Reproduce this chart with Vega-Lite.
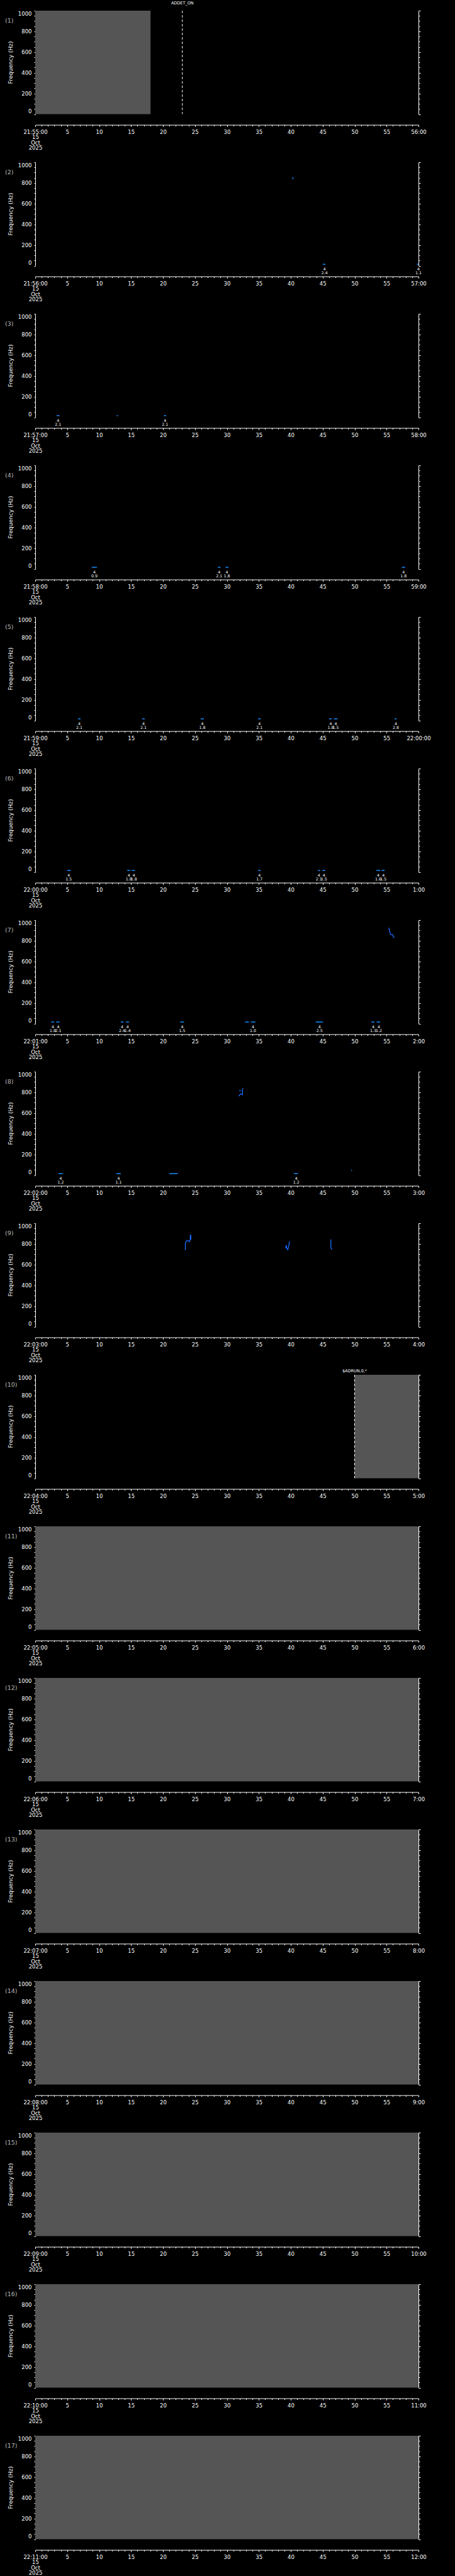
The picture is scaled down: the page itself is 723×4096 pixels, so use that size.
{
"$schema":"https://vega.github.io/schema/vega-lite/v6.json",
"background":"black",
"padding":{"left":8,"top":1,"right":46,"bottom":4},
"spacing":76,
"bounds":"flush",
"config":{"view":{"stroke":null},"font":"DejaVu Sans","axis":{"domainColor":"white","tickColor":"white","labelColor":"white","titleColor":"white","grid":false,"zindex":1,"labelFont":"DejaVu Sans","titleFont":"DejaVu Sans","labelFontSize":8.5,"titleFontWeight":"normal","domainWidth":1,"tickWidth":1}},
"datasets":{
"panels":[{"panel":1,"name":"(1)","t0":0,"t1":60,"f0":0,"f1":1000},{"panel":2,"name":"(2)","t0":0,"t1":60,"f0":0,"f1":1000},{"panel":3,"name":"(3)","t0":0,"t1":60,"f0":0,"f1":1000},{"panel":4,"name":"(4)","t0":0,"t1":60,"f0":0,"f1":1000},{"panel":5,"name":"(5)","t0":0,"t1":60,"f0":0,"f1":1000},{"panel":6,"name":"(6)","t0":0,"t1":60,"f0":0,"f1":1000},{"panel":7,"name":"(7)","t0":0,"t1":60,"f0":0,"f1":1000},{"panel":8,"name":"(8)","t0":0,"t1":60,"f0":0,"f1":1000},{"panel":9,"name":"(9)","t0":0,"t1":60,"f0":0,"f1":1000},{"panel":10,"name":"(10)","t0":0,"t1":60,"f0":0,"f1":1000},{"panel":11,"name":"(11)","t0":0,"t1":60,"f0":0,"f1":1000},{"panel":12,"name":"(12)","t0":0,"t1":60,"f0":0,"f1":1000},{"panel":13,"name":"(13)","t0":0,"t1":60,"f0":0,"f1":1000},{"panel":14,"name":"(14)","t0":0,"t1":60,"f0":0,"f1":1000},{"panel":15,"name":"(15)","t0":0,"t1":60,"f0":0,"f1":1000},{"panel":16,"name":"(16)","t0":0,"t1":60,"f0":0,"f1":1000},{"panel":17,"name":"(17)","t0":0,"t1":60,"f0":0,"f1":1000}],
"grays":[{"panel":1,"t0":0,"t1":18.05},{"panel":10,"t0":50,"t1":60},{"panel":11,"t0":0,"t1":60},{"panel":12,"t0":0,"t1":60},{"panel":13,"t0":0,"t1":60},{"panel":14,"t0":0,"t1":60},{"panel":15,"t0":0,"t1":60},{"panel":16,"t0":0,"t1":60},{"panel":17,"t0":0,"t1":60}],
"events":[{"panel":1,"t":23.03,"label":"ADDET_ON"},{"panel":10,"t":50,"label":"$ADRUN,0,*"}],
"dets":[
{"panel":2,"t0":45.05,"t1":45.45,"f":14,"n":"4","v":"2.4","tc":45.3},{"panel":2,"t0":59.75,"t1":60,"f":14,"n":"4","v":"1.1","tc":60},
{"panel":3,"t0":3.35,"t1":3.8,"f":16,"n":"4","v":"2.1","tc":3.57},{"panel":3,"t0":12.75,"t1":12.95,"f":16,"n":"","v":"","tc":12.85},{"panel":3,"t0":20.15,"t1":20.5,"f":16,"n":"4","v":"2.1","tc":20.32},
{"panel":4,"t0":8.85,"t1":9.65,"f":15,"n":"4","v":"0.9","tc":9.25},{"panel":4,"t0":28.6,"t1":29.0,"f":15,"n":"4","v":"2.1","tc":28.8},{"panel":4,"t0":29.8,"t1":30.25,"f":15,"n":"4","v":"1.8","tc":30.0},{"panel":4,"t0":57.4,"t1":57.9,"f":15,"n":"4","v":"1.8","tc":57.65},
{"panel":5,"t0":6.7,"t1":7.1,"f":15,"n":"4","v":"2.1","tc":6.9},{"panel":5,"t0":16.75,"t1":17.15,"f":15,"n":"4","v":"2.1","tc":16.95},{"panel":5,"t0":25.9,"t1":26.4,"f":15,"n":"4","v":"1.8","tc":26.15},{"panel":5,"t0":34.9,"t1":35.3,"f":15,"n":"4","v":"2.1","tc":35.1},{"panel":5,"t0":46.0,"t1":46.4,"f":15,"n":"4","v":"1.8","tc":46.25},{"panel":5,"t0":46.75,"t1":47.3,"f":15,"n":"4","v":"1.5","tc":47.05},{"panel":5,"t0":56.25,"t1":56.55,"f":15,"n":"4","v":"2.8","tc":56.45},
{"panel":6,"t0":5.0,"t1":5.55,"f":15,"n":"4","v":"1.5","tc":5.25},{"panel":6,"t0":14.4,"t1":14.9,"f":15,"n":"4","v":"1.8","tc":14.65},{"panel":6,"t0":15.1,"t1":15.6,"f":15,"n":"4","v":"1.8","tc":15.45},{"panel":6,"t0":34.9,"t1":35.3,"f":15,"n":"4","v":"1.7","tc":35.1},{"panel":6,"t0":44.25,"t1":44.6,"f":15,"n":"4","v":"2.1","tc":44.4},{"panel":6,"t0":44.95,"t1":45.4,"f":15,"n":"4","v":"1.5","tc":45.2},{"panel":6,"t0":53.4,"t1":54.0,"f":15,"n":"4","v":"1.6","tc":53.7},{"panel":6,"t0":54.2,"t1":54.7,"f":15,"n":"4","v":"1.5","tc":54.5},
{"panel":7,"t0":2.5,"t1":2.95,"f":15,"n":"4","v":"1.8","tc":2.75},{"panel":7,"t0":3.3,"t1":3.8,"f":15,"n":"4","v":"2.1","tc":3.6},{"panel":7,"t0":13.4,"t1":13.8,"f":15,"n":"4","v":"2.4","tc":13.6},{"panel":7,"t0":14.2,"t1":14.7,"f":15,"n":"4","v":"1.4","tc":14.45},{"panel":7,"t0":22.7,"t1":23.3,"f":15,"n":"4","v":"1.5","tc":23.0},{"panel":7,"t0":32.85,"t1":33.45,"f":15,"n":"","v":"","tc":33.1},{"panel":7,"t0":33.75,"t1":34.45,"f":15,"n":"4","v":"1.0","tc":34.1},{"panel":7,"t0":43.9,"t1":45.05,"f":15,"n":"4","v":"2.5","tc":44.5},{"panel":7,"t0":52.6,"t1":53.1,"f":15,"n":"4","v":"1.3","tc":52.9},{"panel":7,"t0":53.45,"t1":54.0,"f":15,"n":"4","v":"1.2","tc":53.8},
{"panel":8,"t0":3.65,"t1":4.35,"f":14,"n":"4","v":"1.2","tc":4.0},{"panel":8,"t0":12.7,"t1":13.4,"f":14,"n":"4","v":"1.1","tc":13.05},{"panel":8,"t0":21.0,"t1":22.3,"f":14,"n":"","v":"","tc":21.6},{"panel":8,"t0":40.5,"t1":41.1,"f":14,"n":"4","v":"1.2","tc":40.85},{"panel":8,"t0":49.45,"t1":49.6,"f":44,"n":"","v":"","tc":49.5}
],
"traces":[
{"panel":2,"id":"2a","o":1,"t":40.3,"f":856},{"panel":2,"id":"2a","o":2,"t":40.33,"f":846},{"panel":2,"id":"2a","o":3,"t":40.38,"f":836},
{"panel":7,"id":"7a","o":1,"t":55.37,"f":926},{"panel":7,"id":"7a","o":2,"t":55.45,"f":893},{"panel":7,"id":"7a","o":3,"t":55.65,"f":860},{"panel":7,"id":"7a","o":4,"t":55.97,"f":860},{"panel":7,"id":"7a","o":5,"t":56.05,"f":838},{"panel":7,"id":"7a","o":6,"t":56.25,"f":828},
{"panel":8,"id":"8a","o":1,"t":31.89,"f":762},{"panel":8,"id":"8a","o":2,"t":32.0,"f":776},{"panel":8,"id":"8a","o":3,"t":32.17,"f":785},{"panel":8,"id":"8a","o":4,"t":32.3,"f":780},{"panel":8,"id":"8a","o":5,"t":32.45,"f":777},{"panel":8,"id":"8a","o":6,"t":32.45,"f":834},{"panel":8,"id":"8a","o":7,"t":32.57,"f":836},
{"panel":8,"id":"8b","o":1,"t":31.93,"f":817},{"panel":8,"id":"8b","o":2,"t":32.2,"f":817},
{"panel":9,"id":"9a","o":1,"t":23.5,"f":739},{"panel":9,"id":"9a","o":2,"t":23.5,"f":807},{"panel":9,"id":"9a","o":3,"t":23.68,"f":829},{"panel":9,"id":"9a","o":4,"t":23.9,"f":833},{"panel":9,"id":"9a","o":5,"t":24.14,"f":821},{"panel":9,"id":"9a","o":6,"t":24.27,"f":843},{"panel":9,"id":"9a","o":7,"t":24.27,"f":883},{"panel":9,"id":"9a","o":8,"t":24.36,"f":883},{"panel":9,"id":"9a","o":9,"t":24.36,"f":840},
{"panel":9,"id":"9b","o":1,"t":39.17,"f":757},{"panel":9,"id":"9b","o":2,"t":39.3,"f":786},{"panel":9,"id":"9b","o":3,"t":39.4,"f":760},{"panel":9,"id":"9b","o":4,"t":39.53,"f":743},{"panel":9,"id":"9b","o":5,"t":39.67,"f":771},{"panel":9,"id":"9b","o":6,"t":39.8,"f":826},
{"panel":9,"id":"9c","o":1,"t":46.28,"f":843},{"panel":9,"id":"9c","o":2,"t":46.28,"f":764},{"panel":9,"id":"9c","o":3,"t":46.46,"f":745}
]},
"vconcat":[
{"width":609,"height":164.5,"resolve":{"axis":{"x":"independent","y":"independent"}},"layer":[
{"data":{"name":"grays"},"transform":[{"filter":"datum.panel == 1"}],"mark":{"type":"rect","color":"#555555"},"encoding":{"x":{"field":"t0","type":"quantitative","axis":null},"x2":{"field":"t1"}}},
{"data":{"name":"events"},"transform":[{"filter":"datum.panel == 1"}],"mark":{"type":"rule","color":"white","strokeDash":[4,3],"strokeWidth":1},"encoding":{"x":{"field":"t","type":"quantitative","axis":null}}},
{"data":{"name":"events"},"transform":[{"filter":"datum.panel == 1"}],"mark":{"type":"text","color":"white","fontSize":6.5,"baseline":"middle","dy":-12.5},"encoding":{"x":{"field":"t","type":"quantitative","axis":null},"y":{"datum":1000,"axis":null},"text":{"field":"label"}}},
{"data":{"name":"panels"},"transform":[{"filter":"datum.panel == 1"}],"mark":{"type":"text","align":"left","baseline":"middle","dx":-48,"dy":16,"color":"#b8b8b8","fontSize":9.5},"encoding":{"x":{"field":"t0","type":"quantitative","scale":{"domain":[0,60],"nice":false,"zero":false},"axis":{"orient":"bottom","offset":17,"values":[0,1,2,3,4,5,6,7,8,9,10,11,12,13,14,15,16,17,18,19,20,21,22,23,24,25,26,27,28,29,30,31,32,33,34,35,36,37,38,39,40,41,42,43,44,45,46,47,48,49,50,51,52,53,54,55,56,57,58,59,60],"labelExpr":"datum.value == 0 ? ['21:55:00','15','Oct','2025'] : datum.value == 60 ? '56:00' : datum.value % 5 == 0 ? '' + datum.value : ''","tickSize":{"condition":{"test":"datum.value % 5 == 0","value":2.8},"value":2},"labelPadding":4,"labelFlush":false,"labelOverlap":false,"labelBound":false,"labelLineHeight":8.5,"title":null}},"y":{"field":"f1","type":"quantitative","scale":{"domain":[0,1000],"nice":false},"axis":{"orient":"left","values":[0,50,100,150,200,250,300,350,400,450,500,550,600,650,700,750,800,850,900,950,1000],"labelExpr":"datum.value % 200 == 0 ? '' + datum.value : ''","tickSize":2,"labelPadding":4,"labelFlush":true,"labelOverlap":false,"title":"Frequency (Hz)","titleX":-40,"titleY":82,"titleAngle":270,"titleBaseline":"middle","titleAlign":"center","titleFontSize":9}},"text":{"field":"name"}}},
{"data":{"name":"panels"},"transform":[{"filter":"datum.panel == 1"}],"mark":{"type":"rect","opacity":0},"encoding":{"y":{"field":"f0","type":"quantitative","axis":{"orient":"right","values":[0,50,100,150,200,250,300,350,400,450,500,550,600,650,700,750,800,850,900,950,1000],"labels":false,"title":null,"tickSize":{"condition":{"test":"datum.value % 200 == 0","value":3},"value":2}}},"y2":{"field":"f1"}}}
]},
{"width":609,"height":164.5,"resolve":{"axis":{"x":"independent","y":"independent"}},"layer":[
{"data":{"name":"traces"},"transform":[{"filter":"datum.panel == 2"}],"mark":{"type":"line","color":"#1a8cff","strokeWidth":1.3},"encoding":{"x":{"field":"t","type":"quantitative","axis":null},"y":{"field":"f","type":"quantitative","axis":null},"detail":{"field":"id"},"order":{"field":"o"}}},
{"data":{"name":"dets"},"transform":[{"filter":"datum.panel == 2"}],"mark":{"type":"rule","color":"#1a8cff","strokeWidth":1.5},"encoding":{"x":{"field":"t0","type":"quantitative","axis":null},"x2":{"field":"t1"},"y":{"field":"f","type":"quantitative","axis":null}}},
{"data":{"name":"dets"},"transform":[{"filter":"datum.panel == 2"}],"mark":{"type":"text","color":"white","fontSize":6.3,"baseline":"middle","dy":5},"encoding":{"x":{"field":"tc","type":"quantitative","axis":null},"y":{"datum":0,"axis":null},"text":{"field":"n"}}},
{"data":{"name":"dets"},"transform":[{"filter":"datum.panel == 2"}],"mark":{"type":"text","color":"white","fontSize":6.3,"baseline":"middle","dy":11.3},"encoding":{"x":{"field":"tc","type":"quantitative","axis":null},"y":{"datum":0,"axis":null},"text":{"field":"v"}}},
{"data":{"name":"panels"},"transform":[{"filter":"datum.panel == 2"}],"mark":{"type":"text","align":"left","baseline":"middle","dx":-48,"dy":16,"color":"#b8b8b8","fontSize":9.5},"encoding":{"x":{"field":"t0","type":"quantitative","scale":{"domain":[0,60],"nice":false,"zero":false},"axis":{"orient":"bottom","offset":17,"values":[0,1,2,3,4,5,6,7,8,9,10,11,12,13,14,15,16,17,18,19,20,21,22,23,24,25,26,27,28,29,30,31,32,33,34,35,36,37,38,39,40,41,42,43,44,45,46,47,48,49,50,51,52,53,54,55,56,57,58,59,60],"labelExpr":"datum.value == 0 ? ['21:56:00','15','Oct','2025'] : datum.value == 60 ? '57:00' : datum.value % 5 == 0 ? '' + datum.value : ''","tickSize":{"condition":{"test":"datum.value % 5 == 0","value":2.8},"value":2},"labelPadding":4,"labelFlush":false,"labelOverlap":false,"labelBound":false,"labelLineHeight":8.5,"title":null}},"y":{"field":"f1","type":"quantitative","scale":{"domain":[0,1000],"nice":false},"axis":{"orient":"left","values":[0,50,100,150,200,250,300,350,400,450,500,550,600,650,700,750,800,850,900,950,1000],"labelExpr":"datum.value % 200 == 0 ? '' + datum.value : ''","tickSize":2,"labelPadding":4,"labelFlush":true,"labelOverlap":false,"title":"Frequency (Hz)","titleX":-40,"titleY":82,"titleAngle":270,"titleBaseline":"middle","titleAlign":"center","titleFontSize":9}},"text":{"field":"name"}}},
{"data":{"name":"panels"},"transform":[{"filter":"datum.panel == 2"}],"mark":{"type":"rect","opacity":0},"encoding":{"y":{"field":"f0","type":"quantitative","axis":{"orient":"right","values":[0,50,100,150,200,250,300,350,400,450,500,550,600,650,700,750,800,850,900,950,1000],"labels":false,"title":null,"tickSize":{"condition":{"test":"datum.value % 200 == 0","value":3},"value":2}}},"y2":{"field":"f1"}}}
]},
{"width":609,"height":164.5,"resolve":{"axis":{"x":"independent","y":"independent"}},"layer":[
{"data":{"name":"dets"},"transform":[{"filter":"datum.panel == 3"}],"mark":{"type":"rule","color":"#1a8cff","strokeWidth":1.5},"encoding":{"x":{"field":"t0","type":"quantitative","axis":null},"x2":{"field":"t1"},"y":{"field":"f","type":"quantitative","axis":null}}},
{"data":{"name":"dets"},"transform":[{"filter":"datum.panel == 3"}],"mark":{"type":"text","color":"white","fontSize":6.3,"baseline":"middle","dy":5},"encoding":{"x":{"field":"tc","type":"quantitative","axis":null},"y":{"datum":0,"axis":null},"text":{"field":"n"}}},
{"data":{"name":"dets"},"transform":[{"filter":"datum.panel == 3"}],"mark":{"type":"text","color":"white","fontSize":6.3,"baseline":"middle","dy":11.3},"encoding":{"x":{"field":"tc","type":"quantitative","axis":null},"y":{"datum":0,"axis":null},"text":{"field":"v"}}},
{"data":{"name":"panels"},"transform":[{"filter":"datum.panel == 3"}],"mark":{"type":"text","align":"left","baseline":"middle","dx":-48,"dy":16,"color":"#b8b8b8","fontSize":9.5},"encoding":{"x":{"field":"t0","type":"quantitative","scale":{"domain":[0,60],"nice":false,"zero":false},"axis":{"orient":"bottom","offset":17,"values":[0,1,2,3,4,5,6,7,8,9,10,11,12,13,14,15,16,17,18,19,20,21,22,23,24,25,26,27,28,29,30,31,32,33,34,35,36,37,38,39,40,41,42,43,44,45,46,47,48,49,50,51,52,53,54,55,56,57,58,59,60],"labelExpr":"datum.value == 0 ? ['21:57:00','15','Oct','2025'] : datum.value == 60 ? '58:00' : datum.value % 5 == 0 ? '' + datum.value : ''","tickSize":{"condition":{"test":"datum.value % 5 == 0","value":2.8},"value":2},"labelPadding":4,"labelFlush":false,"labelOverlap":false,"labelBound":false,"labelLineHeight":8.5,"title":null}},"y":{"field":"f1","type":"quantitative","scale":{"domain":[0,1000],"nice":false},"axis":{"orient":"left","values":[0,50,100,150,200,250,300,350,400,450,500,550,600,650,700,750,800,850,900,950,1000],"labelExpr":"datum.value % 200 == 0 ? '' + datum.value : ''","tickSize":2,"labelPadding":4,"labelFlush":true,"labelOverlap":false,"title":"Frequency (Hz)","titleX":-40,"titleY":82,"titleAngle":270,"titleBaseline":"middle","titleAlign":"center","titleFontSize":9}},"text":{"field":"name"}}},
{"data":{"name":"panels"},"transform":[{"filter":"datum.panel == 3"}],"mark":{"type":"rect","opacity":0},"encoding":{"y":{"field":"f0","type":"quantitative","axis":{"orient":"right","values":[0,50,100,150,200,250,300,350,400,450,500,550,600,650,700,750,800,850,900,950,1000],"labels":false,"title":null,"tickSize":{"condition":{"test":"datum.value % 200 == 0","value":3},"value":2}}},"y2":{"field":"f1"}}}
]},
{"width":609,"height":164.5,"resolve":{"axis":{"x":"independent","y":"independent"}},"layer":[
{"data":{"name":"dets"},"transform":[{"filter":"datum.panel == 4"}],"mark":{"type":"rule","color":"#1a8cff","strokeWidth":1.5},"encoding":{"x":{"field":"t0","type":"quantitative","axis":null},"x2":{"field":"t1"},"y":{"field":"f","type":"quantitative","axis":null}}},
{"data":{"name":"dets"},"transform":[{"filter":"datum.panel == 4"}],"mark":{"type":"text","color":"white","fontSize":6.3,"baseline":"middle","dy":5},"encoding":{"x":{"field":"tc","type":"quantitative","axis":null},"y":{"datum":0,"axis":null},"text":{"field":"n"}}},
{"data":{"name":"dets"},"transform":[{"filter":"datum.panel == 4"}],"mark":{"type":"text","color":"white","fontSize":6.3,"baseline":"middle","dy":11.3},"encoding":{"x":{"field":"tc","type":"quantitative","axis":null},"y":{"datum":0,"axis":null},"text":{"field":"v"}}},
{"data":{"name":"panels"},"transform":[{"filter":"datum.panel == 4"}],"mark":{"type":"text","align":"left","baseline":"middle","dx":-48,"dy":16,"color":"#b8b8b8","fontSize":9.5},"encoding":{"x":{"field":"t0","type":"quantitative","scale":{"domain":[0,60],"nice":false,"zero":false},"axis":{"orient":"bottom","offset":17,"values":[0,1,2,3,4,5,6,7,8,9,10,11,12,13,14,15,16,17,18,19,20,21,22,23,24,25,26,27,28,29,30,31,32,33,34,35,36,37,38,39,40,41,42,43,44,45,46,47,48,49,50,51,52,53,54,55,56,57,58,59,60],"labelExpr":"datum.value == 0 ? ['21:58:00','15','Oct','2025'] : datum.value == 60 ? '59:00' : datum.value % 5 == 0 ? '' + datum.value : ''","tickSize":{"condition":{"test":"datum.value % 5 == 0","value":2.8},"value":2},"labelPadding":4,"labelFlush":false,"labelOverlap":false,"labelBound":false,"labelLineHeight":8.5,"title":null}},"y":{"field":"f1","type":"quantitative","scale":{"domain":[0,1000],"nice":false},"axis":{"orient":"left","values":[0,50,100,150,200,250,300,350,400,450,500,550,600,650,700,750,800,850,900,950,1000],"labelExpr":"datum.value % 200 == 0 ? '' + datum.value : ''","tickSize":2,"labelPadding":4,"labelFlush":true,"labelOverlap":false,"title":"Frequency (Hz)","titleX":-40,"titleY":82,"titleAngle":270,"titleBaseline":"middle","titleAlign":"center","titleFontSize":9}},"text":{"field":"name"}}},
{"data":{"name":"panels"},"transform":[{"filter":"datum.panel == 4"}],"mark":{"type":"rect","opacity":0},"encoding":{"y":{"field":"f0","type":"quantitative","axis":{"orient":"right","values":[0,50,100,150,200,250,300,350,400,450,500,550,600,650,700,750,800,850,900,950,1000],"labels":false,"title":null,"tickSize":{"condition":{"test":"datum.value % 200 == 0","value":3},"value":2}}},"y2":{"field":"f1"}}}
]},
{"width":609,"height":164.5,"resolve":{"axis":{"x":"independent","y":"independent"}},"layer":[
{"data":{"name":"dets"},"transform":[{"filter":"datum.panel == 5"}],"mark":{"type":"rule","color":"#1a8cff","strokeWidth":1.5},"encoding":{"x":{"field":"t0","type":"quantitative","axis":null},"x2":{"field":"t1"},"y":{"field":"f","type":"quantitative","axis":null}}},
{"data":{"name":"dets"},"transform":[{"filter":"datum.panel == 5"}],"mark":{"type":"text","color":"white","fontSize":6.3,"baseline":"middle","dy":5},"encoding":{"x":{"field":"tc","type":"quantitative","axis":null},"y":{"datum":0,"axis":null},"text":{"field":"n"}}},
{"data":{"name":"dets"},"transform":[{"filter":"datum.panel == 5"}],"mark":{"type":"text","color":"white","fontSize":6.3,"baseline":"middle","dy":11.3},"encoding":{"x":{"field":"tc","type":"quantitative","axis":null},"y":{"datum":0,"axis":null},"text":{"field":"v"}}},
{"data":{"name":"panels"},"transform":[{"filter":"datum.panel == 5"}],"mark":{"type":"text","align":"left","baseline":"middle","dx":-48,"dy":16,"color":"#b8b8b8","fontSize":9.5},"encoding":{"x":{"field":"t0","type":"quantitative","scale":{"domain":[0,60],"nice":false,"zero":false},"axis":{"orient":"bottom","offset":17,"values":[0,1,2,3,4,5,6,7,8,9,10,11,12,13,14,15,16,17,18,19,20,21,22,23,24,25,26,27,28,29,30,31,32,33,34,35,36,37,38,39,40,41,42,43,44,45,46,47,48,49,50,51,52,53,54,55,56,57,58,59,60],"labelExpr":"datum.value == 0 ? ['21:59:00','15','Oct','2025'] : datum.value == 60 ? '22:00:00' : datum.value % 5 == 0 ? '' + datum.value : ''","tickSize":{"condition":{"test":"datum.value % 5 == 0","value":2.8},"value":2},"labelPadding":4,"labelFlush":false,"labelOverlap":false,"labelBound":false,"labelLineHeight":8.5,"title":null}},"y":{"field":"f1","type":"quantitative","scale":{"domain":[0,1000],"nice":false},"axis":{"orient":"left","values":[0,50,100,150,200,250,300,350,400,450,500,550,600,650,700,750,800,850,900,950,1000],"labelExpr":"datum.value % 200 == 0 ? '' + datum.value : ''","tickSize":2,"labelPadding":4,"labelFlush":true,"labelOverlap":false,"title":"Frequency (Hz)","titleX":-40,"titleY":82,"titleAngle":270,"titleBaseline":"middle","titleAlign":"center","titleFontSize":9}},"text":{"field":"name"}}},
{"data":{"name":"panels"},"transform":[{"filter":"datum.panel == 5"}],"mark":{"type":"rect","opacity":0},"encoding":{"y":{"field":"f0","type":"quantitative","axis":{"orient":"right","values":[0,50,100,150,200,250,300,350,400,450,500,550,600,650,700,750,800,850,900,950,1000],"labels":false,"title":null,"tickSize":{"condition":{"test":"datum.value % 200 == 0","value":3},"value":2}}},"y2":{"field":"f1"}}}
]},
{"width":609,"height":164.5,"resolve":{"axis":{"x":"independent","y":"independent"}},"layer":[
{"data":{"name":"dets"},"transform":[{"filter":"datum.panel == 6"}],"mark":{"type":"rule","color":"#1a8cff","strokeWidth":1.5},"encoding":{"x":{"field":"t0","type":"quantitative","axis":null},"x2":{"field":"t1"},"y":{"field":"f","type":"quantitative","axis":null}}},
{"data":{"name":"dets"},"transform":[{"filter":"datum.panel == 6"}],"mark":{"type":"text","color":"white","fontSize":6.3,"baseline":"middle","dy":5},"encoding":{"x":{"field":"tc","type":"quantitative","axis":null},"y":{"datum":0,"axis":null},"text":{"field":"n"}}},
{"data":{"name":"dets"},"transform":[{"filter":"datum.panel == 6"}],"mark":{"type":"text","color":"white","fontSize":6.3,"baseline":"middle","dy":11.3},"encoding":{"x":{"field":"tc","type":"quantitative","axis":null},"y":{"datum":0,"axis":null},"text":{"field":"v"}}},
{"data":{"name":"panels"},"transform":[{"filter":"datum.panel == 6"}],"mark":{"type":"text","align":"left","baseline":"middle","dx":-48,"dy":16,"color":"#b8b8b8","fontSize":9.5},"encoding":{"x":{"field":"t0","type":"quantitative","scale":{"domain":[0,60],"nice":false,"zero":false},"axis":{"orient":"bottom","offset":17,"values":[0,1,2,3,4,5,6,7,8,9,10,11,12,13,14,15,16,17,18,19,20,21,22,23,24,25,26,27,28,29,30,31,32,33,34,35,36,37,38,39,40,41,42,43,44,45,46,47,48,49,50,51,52,53,54,55,56,57,58,59,60],"labelExpr":"datum.value == 0 ? ['22:00:00','15','Oct','2025'] : datum.value == 60 ? '1:00' : datum.value % 5 == 0 ? '' + datum.value : ''","tickSize":{"condition":{"test":"datum.value % 5 == 0","value":2.8},"value":2},"labelPadding":4,"labelFlush":false,"labelOverlap":false,"labelBound":false,"labelLineHeight":8.5,"title":null}},"y":{"field":"f1","type":"quantitative","scale":{"domain":[0,1000],"nice":false},"axis":{"orient":"left","values":[0,50,100,150,200,250,300,350,400,450,500,550,600,650,700,750,800,850,900,950,1000],"labelExpr":"datum.value % 200 == 0 ? '' + datum.value : ''","tickSize":2,"labelPadding":4,"labelFlush":true,"labelOverlap":false,"title":"Frequency (Hz)","titleX":-40,"titleY":82,"titleAngle":270,"titleBaseline":"middle","titleAlign":"center","titleFontSize":9}},"text":{"field":"name"}}},
{"data":{"name":"panels"},"transform":[{"filter":"datum.panel == 6"}],"mark":{"type":"rect","opacity":0},"encoding":{"y":{"field":"f0","type":"quantitative","axis":{"orient":"right","values":[0,50,100,150,200,250,300,350,400,450,500,550,600,650,700,750,800,850,900,950,1000],"labels":false,"title":null,"tickSize":{"condition":{"test":"datum.value % 200 == 0","value":3},"value":2}}},"y2":{"field":"f1"}}}
]},
{"width":609,"height":164.5,"resolve":{"axis":{"x":"independent","y":"independent"}},"layer":[
{"data":{"name":"traces"},"transform":[{"filter":"datum.panel == 7"}],"mark":{"type":"line","color":"#1a6cff","strokeWidth":1.3},"encoding":{"x":{"field":"t","type":"quantitative","axis":null},"y":{"field":"f","type":"quantitative","axis":null},"detail":{"field":"id"},"order":{"field":"o"}}},
{"data":{"name":"dets"},"transform":[{"filter":"datum.panel == 7"}],"mark":{"type":"rule","color":"#1a8cff","strokeWidth":1.5},"encoding":{"x":{"field":"t0","type":"quantitative","axis":null},"x2":{"field":"t1"},"y":{"field":"f","type":"quantitative","axis":null}}},
{"data":{"name":"dets"},"transform":[{"filter":"datum.panel == 7"}],"mark":{"type":"text","color":"white","fontSize":6.3,"baseline":"middle","dy":5},"encoding":{"x":{"field":"tc","type":"quantitative","axis":null},"y":{"datum":0,"axis":null},"text":{"field":"n"}}},
{"data":{"name":"dets"},"transform":[{"filter":"datum.panel == 7"}],"mark":{"type":"text","color":"white","fontSize":6.3,"baseline":"middle","dy":11.3},"encoding":{"x":{"field":"tc","type":"quantitative","axis":null},"y":{"datum":0,"axis":null},"text":{"field":"v"}}},
{"data":{"name":"panels"},"transform":[{"filter":"datum.panel == 7"}],"mark":{"type":"text","align":"left","baseline":"middle","dx":-48,"dy":16,"color":"#b8b8b8","fontSize":9.5},"encoding":{"x":{"field":"t0","type":"quantitative","scale":{"domain":[0,60],"nice":false,"zero":false},"axis":{"orient":"bottom","offset":17,"values":[0,1,2,3,4,5,6,7,8,9,10,11,12,13,14,15,16,17,18,19,20,21,22,23,24,25,26,27,28,29,30,31,32,33,34,35,36,37,38,39,40,41,42,43,44,45,46,47,48,49,50,51,52,53,54,55,56,57,58,59,60],"labelExpr":"datum.value == 0 ? ['22:01:00','15','Oct','2025'] : datum.value == 60 ? '2:00' : datum.value % 5 == 0 ? '' + datum.value : ''","tickSize":{"condition":{"test":"datum.value % 5 == 0","value":2.8},"value":2},"labelPadding":4,"labelFlush":false,"labelOverlap":false,"labelBound":false,"labelLineHeight":8.5,"title":null}},"y":{"field":"f1","type":"quantitative","scale":{"domain":[0,1000],"nice":false},"axis":{"orient":"left","values":[0,50,100,150,200,250,300,350,400,450,500,550,600,650,700,750,800,850,900,950,1000],"labelExpr":"datum.value % 200 == 0 ? '' + datum.value : ''","tickSize":2,"labelPadding":4,"labelFlush":true,"labelOverlap":false,"title":"Frequency (Hz)","titleX":-40,"titleY":82,"titleAngle":270,"titleBaseline":"middle","titleAlign":"center","titleFontSize":9}},"text":{"field":"name"}}},
{"data":{"name":"panels"},"transform":[{"filter":"datum.panel == 7"}],"mark":{"type":"rect","opacity":0},"encoding":{"y":{"field":"f0","type":"quantitative","axis":{"orient":"right","values":[0,50,100,150,200,250,300,350,400,450,500,550,600,650,700,750,800,850,900,950,1000],"labels":false,"title":null,"tickSize":{"condition":{"test":"datum.value % 200 == 0","value":3},"value":2}}},"y2":{"field":"f1"}}}
]},
{"width":609,"height":164.5,"resolve":{"axis":{"x":"independent","y":"independent"}},"layer":[
{"data":{"name":"traces"},"transform":[{"filter":"datum.panel == 8"}],"mark":{"type":"line","color":"#1a6cff","strokeWidth":1.3},"encoding":{"x":{"field":"t","type":"quantitative","axis":null},"y":{"field":"f","type":"quantitative","axis":null},"detail":{"field":"id"},"order":{"field":"o"}}},
{"data":{"name":"dets"},"transform":[{"filter":"datum.panel == 8"}],"mark":{"type":"rule","color":"#1a8cff","strokeWidth":1.5},"encoding":{"x":{"field":"t0","type":"quantitative","axis":null},"x2":{"field":"t1"},"y":{"field":"f","type":"quantitative","axis":null}}},
{"data":{"name":"dets"},"transform":[{"filter":"datum.panel == 8"}],"mark":{"type":"text","color":"white","fontSize":6.3,"baseline":"middle","dy":5},"encoding":{"x":{"field":"tc","type":"quantitative","axis":null},"y":{"datum":0,"axis":null},"text":{"field":"n"}}},
{"data":{"name":"dets"},"transform":[{"filter":"datum.panel == 8"}],"mark":{"type":"text","color":"white","fontSize":6.3,"baseline":"middle","dy":11.3},"encoding":{"x":{"field":"tc","type":"quantitative","axis":null},"y":{"datum":0,"axis":null},"text":{"field":"v"}}},
{"data":{"name":"panels"},"transform":[{"filter":"datum.panel == 8"}],"mark":{"type":"text","align":"left","baseline":"middle","dx":-48,"dy":16,"color":"#b8b8b8","fontSize":9.5},"encoding":{"x":{"field":"t0","type":"quantitative","scale":{"domain":[0,60],"nice":false,"zero":false},"axis":{"orient":"bottom","offset":17,"values":[0,1,2,3,4,5,6,7,8,9,10,11,12,13,14,15,16,17,18,19,20,21,22,23,24,25,26,27,28,29,30,31,32,33,34,35,36,37,38,39,40,41,42,43,44,45,46,47,48,49,50,51,52,53,54,55,56,57,58,59,60],"labelExpr":"datum.value == 0 ? ['22:02:00','15','Oct','2025'] : datum.value == 60 ? '3:00' : datum.value % 5 == 0 ? '' + datum.value : ''","tickSize":{"condition":{"test":"datum.value % 5 == 0","value":2.8},"value":2},"labelPadding":4,"labelFlush":false,"labelOverlap":false,"labelBound":false,"labelLineHeight":8.5,"title":null}},"y":{"field":"f1","type":"quantitative","scale":{"domain":[0,1000],"nice":false},"axis":{"orient":"left","values":[0,50,100,150,200,250,300,350,400,450,500,550,600,650,700,750,800,850,900,950,1000],"labelExpr":"datum.value % 200 == 0 ? '' + datum.value : ''","tickSize":2,"labelPadding":4,"labelFlush":true,"labelOverlap":false,"title":"Frequency (Hz)","titleX":-40,"titleY":82,"titleAngle":270,"titleBaseline":"middle","titleAlign":"center","titleFontSize":9}},"text":{"field":"name"}}},
{"data":{"name":"panels"},"transform":[{"filter":"datum.panel == 8"}],"mark":{"type":"rect","opacity":0},"encoding":{"y":{"field":"f0","type":"quantitative","axis":{"orient":"right","values":[0,50,100,150,200,250,300,350,400,450,500,550,600,650,700,750,800,850,900,950,1000],"labels":false,"title":null,"tickSize":{"condition":{"test":"datum.value % 200 == 0","value":3},"value":2}}},"y2":{"field":"f1"}}}
]},
{"width":609,"height":164.5,"resolve":{"axis":{"x":"independent","y":"independent"}},"layer":[
{"data":{"name":"traces"},"transform":[{"filter":"datum.panel == 9"}],"mark":{"type":"line","color":"#1a6cff","strokeWidth":1.3},"encoding":{"x":{"field":"t","type":"quantitative","axis":null},"y":{"field":"f","type":"quantitative","axis":null},"detail":{"field":"id"},"order":{"field":"o"}}},
{"data":{"name":"panels"},"transform":[{"filter":"datum.panel == 9"}],"mark":{"type":"text","align":"left","baseline":"middle","dx":-48,"dy":16,"color":"#b8b8b8","fontSize":9.5},"encoding":{"x":{"field":"t0","type":"quantitative","scale":{"domain":[0,60],"nice":false,"zero":false},"axis":{"orient":"bottom","offset":17,"values":[0,1,2,3,4,5,6,7,8,9,10,11,12,13,14,15,16,17,18,19,20,21,22,23,24,25,26,27,28,29,30,31,32,33,34,35,36,37,38,39,40,41,42,43,44,45,46,47,48,49,50,51,52,53,54,55,56,57,58,59,60],"labelExpr":"datum.value == 0 ? ['22:03:00','15','Oct','2025'] : datum.value == 60 ? '4:00' : datum.value % 5 == 0 ? '' + datum.value : ''","tickSize":{"condition":{"test":"datum.value % 5 == 0","value":2.8},"value":2},"labelPadding":4,"labelFlush":false,"labelOverlap":false,"labelBound":false,"labelLineHeight":8.5,"title":null}},"y":{"field":"f1","type":"quantitative","scale":{"domain":[0,1000],"nice":false},"axis":{"orient":"left","values":[0,50,100,150,200,250,300,350,400,450,500,550,600,650,700,750,800,850,900,950,1000],"labelExpr":"datum.value % 200 == 0 ? '' + datum.value : ''","tickSize":2,"labelPadding":4,"labelFlush":true,"labelOverlap":false,"title":"Frequency (Hz)","titleX":-40,"titleY":82,"titleAngle":270,"titleBaseline":"middle","titleAlign":"center","titleFontSize":9}},"text":{"field":"name"}}},
{"data":{"name":"panels"},"transform":[{"filter":"datum.panel == 9"}],"mark":{"type":"rect","opacity":0},"encoding":{"y":{"field":"f0","type":"quantitative","axis":{"orient":"right","values":[0,50,100,150,200,250,300,350,400,450,500,550,600,650,700,750,800,850,900,950,1000],"labels":false,"title":null,"tickSize":{"condition":{"test":"datum.value % 200 == 0","value":3},"value":2}}},"y2":{"field":"f1"}}}
]},
{"width":609,"height":164.5,"resolve":{"axis":{"x":"independent","y":"independent"}},"layer":[
{"data":{"name":"grays"},"transform":[{"filter":"datum.panel == 10"}],"mark":{"type":"rect","color":"#555555"},"encoding":{"x":{"field":"t0","type":"quantitative","axis":null},"x2":{"field":"t1"}}},
{"data":{"name":"events"},"transform":[{"filter":"datum.panel == 10"}],"mark":{"type":"rule","color":"white","strokeDash":[4,3],"strokeWidth":1},"encoding":{"x":{"field":"t","type":"quantitative","axis":null}}},
{"data":{"name":"events"},"transform":[{"filter":"datum.panel == 10"}],"mark":{"type":"text","color":"white","fontSize":6.5,"baseline":"middle","dy":-6},"encoding":{"x":{"field":"t","type":"quantitative","axis":null},"y":{"datum":1000,"axis":null},"text":{"field":"label"}}},
{"data":{"name":"panels"},"transform":[{"filter":"datum.panel == 10"}],"mark":{"type":"text","align":"left","baseline":"middle","dx":-48,"dy":16,"color":"#b8b8b8","fontSize":9.5},"encoding":{"x":{"field":"t0","type":"quantitative","scale":{"domain":[0,60],"nice":false,"zero":false},"axis":{"orient":"bottom","offset":17,"values":[0,1,2,3,4,5,6,7,8,9,10,11,12,13,14,15,16,17,18,19,20,21,22,23,24,25,26,27,28,29,30,31,32,33,34,35,36,37,38,39,40,41,42,43,44,45,46,47,48,49,50,51,52,53,54,55,56,57,58,59,60],"labelExpr":"datum.value == 0 ? ['22:04:00','15','Oct','2025'] : datum.value == 60 ? '5:00' : datum.value % 5 == 0 ? '' + datum.value : ''","tickSize":{"condition":{"test":"datum.value % 5 == 0","value":2.8},"value":2},"labelPadding":4,"labelFlush":false,"labelOverlap":false,"labelBound":false,"labelLineHeight":8.5,"title":null}},"y":{"field":"f1","type":"quantitative","scale":{"domain":[0,1000],"nice":false},"axis":{"orient":"left","values":[0,50,100,150,200,250,300,350,400,450,500,550,600,650,700,750,800,850,900,950,1000],"labelExpr":"datum.value % 200 == 0 ? '' + datum.value : ''","tickSize":2,"labelPadding":4,"labelFlush":true,"labelOverlap":false,"title":"Frequency (Hz)","titleX":-40,"titleY":82,"titleAngle":270,"titleBaseline":"middle","titleAlign":"center","titleFontSize":9}},"text":{"field":"name"}}},
{"data":{"name":"panels"},"transform":[{"filter":"datum.panel == 10"}],"mark":{"type":"rect","opacity":0},"encoding":{"y":{"field":"f0","type":"quantitative","axis":{"orient":"right","values":[0,50,100,150,200,250,300,350,400,450,500,550,600,650,700,750,800,850,900,950,1000],"labels":false,"title":null,"tickSize":{"condition":{"test":"datum.value % 200 == 0","value":3},"value":2}}},"y2":{"field":"f1"}}}
]},
{"width":609,"height":164.5,"resolve":{"axis":{"x":"independent","y":"independent"}},"layer":[
{"data":{"name":"grays"},"transform":[{"filter":"datum.panel == 11"}],"mark":{"type":"rect","color":"#555555"},"encoding":{"x":{"field":"t0","type":"quantitative","axis":null},"x2":{"field":"t1"}}},
{"data":{"name":"panels"},"transform":[{"filter":"datum.panel == 11"}],"mark":{"type":"text","align":"left","baseline":"middle","dx":-48,"dy":16,"color":"#b8b8b8","fontSize":9.5},"encoding":{"x":{"field":"t0","type":"quantitative","scale":{"domain":[0,60],"nice":false,"zero":false},"axis":{"orient":"bottom","offset":17,"values":[0,1,2,3,4,5,6,7,8,9,10,11,12,13,14,15,16,17,18,19,20,21,22,23,24,25,26,27,28,29,30,31,32,33,34,35,36,37,38,39,40,41,42,43,44,45,46,47,48,49,50,51,52,53,54,55,56,57,58,59,60],"labelExpr":"datum.value == 0 ? ['22:05:00','15','Oct','2025'] : datum.value == 60 ? '6:00' : datum.value % 5 == 0 ? '' + datum.value : ''","tickSize":{"condition":{"test":"datum.value % 5 == 0","value":2.8},"value":2},"labelPadding":4,"labelFlush":false,"labelOverlap":false,"labelBound":false,"labelLineHeight":8.5,"title":null}},"y":{"field":"f1","type":"quantitative","scale":{"domain":[0,1000],"nice":false},"axis":{"orient":"left","values":[0,50,100,150,200,250,300,350,400,450,500,550,600,650,700,750,800,850,900,950,1000],"labelExpr":"datum.value % 200 == 0 ? '' + datum.value : ''","tickSize":2,"labelPadding":4,"labelFlush":true,"labelOverlap":false,"title":"Frequency (Hz)","titleX":-40,"titleY":82,"titleAngle":270,"titleBaseline":"middle","titleAlign":"center","titleFontSize":9}},"text":{"field":"name"}}},
{"data":{"name":"panels"},"transform":[{"filter":"datum.panel == 11"}],"mark":{"type":"rect","opacity":0},"encoding":{"y":{"field":"f0","type":"quantitative","axis":{"orient":"right","values":[0,50,100,150,200,250,300,350,400,450,500,550,600,650,700,750,800,850,900,950,1000],"labels":false,"title":null,"tickSize":{"condition":{"test":"datum.value % 200 == 0","value":3},"value":2}}},"y2":{"field":"f1"}}}
]},
{"width":609,"height":164.5,"resolve":{"axis":{"x":"independent","y":"independent"}},"layer":[
{"data":{"name":"grays"},"transform":[{"filter":"datum.panel == 12"}],"mark":{"type":"rect","color":"#555555"},"encoding":{"x":{"field":"t0","type":"quantitative","axis":null},"x2":{"field":"t1"}}},
{"data":{"name":"panels"},"transform":[{"filter":"datum.panel == 12"}],"mark":{"type":"text","align":"left","baseline":"middle","dx":-48,"dy":16,"color":"#b8b8b8","fontSize":9.5},"encoding":{"x":{"field":"t0","type":"quantitative","scale":{"domain":[0,60],"nice":false,"zero":false},"axis":{"orient":"bottom","offset":17,"values":[0,1,2,3,4,5,6,7,8,9,10,11,12,13,14,15,16,17,18,19,20,21,22,23,24,25,26,27,28,29,30,31,32,33,34,35,36,37,38,39,40,41,42,43,44,45,46,47,48,49,50,51,52,53,54,55,56,57,58,59,60],"labelExpr":"datum.value == 0 ? ['22:06:00','15','Oct','2025'] : datum.value == 60 ? '7:00' : datum.value % 5 == 0 ? '' + datum.value : ''","tickSize":{"condition":{"test":"datum.value % 5 == 0","value":2.8},"value":2},"labelPadding":4,"labelFlush":false,"labelOverlap":false,"labelBound":false,"labelLineHeight":8.5,"title":null}},"y":{"field":"f1","type":"quantitative","scale":{"domain":[0,1000],"nice":false},"axis":{"orient":"left","values":[0,50,100,150,200,250,300,350,400,450,500,550,600,650,700,750,800,850,900,950,1000],"labelExpr":"datum.value % 200 == 0 ? '' + datum.value : ''","tickSize":2,"labelPadding":4,"labelFlush":true,"labelOverlap":false,"title":"Frequency (Hz)","titleX":-40,"titleY":82,"titleAngle":270,"titleBaseline":"middle","titleAlign":"center","titleFontSize":9}},"text":{"field":"name"}}},
{"data":{"name":"panels"},"transform":[{"filter":"datum.panel == 12"}],"mark":{"type":"rect","opacity":0},"encoding":{"y":{"field":"f0","type":"quantitative","axis":{"orient":"right","values":[0,50,100,150,200,250,300,350,400,450,500,550,600,650,700,750,800,850,900,950,1000],"labels":false,"title":null,"tickSize":{"condition":{"test":"datum.value % 200 == 0","value":3},"value":2}}},"y2":{"field":"f1"}}}
]},
{"width":609,"height":164.5,"resolve":{"axis":{"x":"independent","y":"independent"}},"layer":[
{"data":{"name":"grays"},"transform":[{"filter":"datum.panel == 13"}],"mark":{"type":"rect","color":"#555555"},"encoding":{"x":{"field":"t0","type":"quantitative","axis":null},"x2":{"field":"t1"}}},
{"data":{"name":"panels"},"transform":[{"filter":"datum.panel == 13"}],"mark":{"type":"text","align":"left","baseline":"middle","dx":-48,"dy":16,"color":"#b8b8b8","fontSize":9.5},"encoding":{"x":{"field":"t0","type":"quantitative","scale":{"domain":[0,60],"nice":false,"zero":false},"axis":{"orient":"bottom","offset":17,"values":[0,1,2,3,4,5,6,7,8,9,10,11,12,13,14,15,16,17,18,19,20,21,22,23,24,25,26,27,28,29,30,31,32,33,34,35,36,37,38,39,40,41,42,43,44,45,46,47,48,49,50,51,52,53,54,55,56,57,58,59,60],"labelExpr":"datum.value == 0 ? ['22:07:00','15','Oct','2025'] : datum.value == 60 ? '8:00' : datum.value % 5 == 0 ? '' + datum.value : ''","tickSize":{"condition":{"test":"datum.value % 5 == 0","value":2.8},"value":2},"labelPadding":4,"labelFlush":false,"labelOverlap":false,"labelBound":false,"labelLineHeight":8.5,"title":null}},"y":{"field":"f1","type":"quantitative","scale":{"domain":[0,1000],"nice":false},"axis":{"orient":"left","values":[0,50,100,150,200,250,300,350,400,450,500,550,600,650,700,750,800,850,900,950,1000],"labelExpr":"datum.value % 200 == 0 ? '' + datum.value : ''","tickSize":2,"labelPadding":4,"labelFlush":true,"labelOverlap":false,"title":"Frequency (Hz)","titleX":-40,"titleY":82,"titleAngle":270,"titleBaseline":"middle","titleAlign":"center","titleFontSize":9}},"text":{"field":"name"}}},
{"data":{"name":"panels"},"transform":[{"filter":"datum.panel == 13"}],"mark":{"type":"rect","opacity":0},"encoding":{"y":{"field":"f0","type":"quantitative","axis":{"orient":"right","values":[0,50,100,150,200,250,300,350,400,450,500,550,600,650,700,750,800,850,900,950,1000],"labels":false,"title":null,"tickSize":{"condition":{"test":"datum.value % 200 == 0","value":3},"value":2}}},"y2":{"field":"f1"}}}
]},
{"width":609,"height":164.5,"resolve":{"axis":{"x":"independent","y":"independent"}},"layer":[
{"data":{"name":"grays"},"transform":[{"filter":"datum.panel == 14"}],"mark":{"type":"rect","color":"#555555"},"encoding":{"x":{"field":"t0","type":"quantitative","axis":null},"x2":{"field":"t1"}}},
{"data":{"name":"panels"},"transform":[{"filter":"datum.panel == 14"}],"mark":{"type":"text","align":"left","baseline":"middle","dx":-48,"dy":16,"color":"#b8b8b8","fontSize":9.5},"encoding":{"x":{"field":"t0","type":"quantitative","scale":{"domain":[0,60],"nice":false,"zero":false},"axis":{"orient":"bottom","offset":17,"values":[0,1,2,3,4,5,6,7,8,9,10,11,12,13,14,15,16,17,18,19,20,21,22,23,24,25,26,27,28,29,30,31,32,33,34,35,36,37,38,39,40,41,42,43,44,45,46,47,48,49,50,51,52,53,54,55,56,57,58,59,60],"labelExpr":"datum.value == 0 ? ['22:08:00','15','Oct','2025'] : datum.value == 60 ? '9:00' : datum.value % 5 == 0 ? '' + datum.value : ''","tickSize":{"condition":{"test":"datum.value % 5 == 0","value":2.8},"value":2},"labelPadding":4,"labelFlush":false,"labelOverlap":false,"labelBound":false,"labelLineHeight":8.5,"title":null}},"y":{"field":"f1","type":"quantitative","scale":{"domain":[0,1000],"nice":false},"axis":{"orient":"left","values":[0,50,100,150,200,250,300,350,400,450,500,550,600,650,700,750,800,850,900,950,1000],"labelExpr":"datum.value % 200 == 0 ? '' + datum.value : ''","tickSize":2,"labelPadding":4,"labelFlush":true,"labelOverlap":false,"title":"Frequency (Hz)","titleX":-40,"titleY":82,"titleAngle":270,"titleBaseline":"middle","titleAlign":"center","titleFontSize":9}},"text":{"field":"name"}}},
{"data":{"name":"panels"},"transform":[{"filter":"datum.panel == 14"}],"mark":{"type":"rect","opacity":0},"encoding":{"y":{"field":"f0","type":"quantitative","axis":{"orient":"right","values":[0,50,100,150,200,250,300,350,400,450,500,550,600,650,700,750,800,850,900,950,1000],"labels":false,"title":null,"tickSize":{"condition":{"test":"datum.value % 200 == 0","value":3},"value":2}}},"y2":{"field":"f1"}}}
]},
{"width":609,"height":164.5,"resolve":{"axis":{"x":"independent","y":"independent"}},"layer":[
{"data":{"name":"grays"},"transform":[{"filter":"datum.panel == 15"}],"mark":{"type":"rect","color":"#555555"},"encoding":{"x":{"field":"t0","type":"quantitative","axis":null},"x2":{"field":"t1"}}},
{"data":{"name":"panels"},"transform":[{"filter":"datum.panel == 15"}],"mark":{"type":"text","align":"left","baseline":"middle","dx":-48,"dy":16,"color":"#b8b8b8","fontSize":9.5},"encoding":{"x":{"field":"t0","type":"quantitative","scale":{"domain":[0,60],"nice":false,"zero":false},"axis":{"orient":"bottom","offset":17,"values":[0,1,2,3,4,5,6,7,8,9,10,11,12,13,14,15,16,17,18,19,20,21,22,23,24,25,26,27,28,29,30,31,32,33,34,35,36,37,38,39,40,41,42,43,44,45,46,47,48,49,50,51,52,53,54,55,56,57,58,59,60],"labelExpr":"datum.value == 0 ? ['22:09:00','15','Oct','2025'] : datum.value == 60 ? '10:00' : datum.value % 5 == 0 ? '' + datum.value : ''","tickSize":{"condition":{"test":"datum.value % 5 == 0","value":2.8},"value":2},"labelPadding":4,"labelFlush":false,"labelOverlap":false,"labelBound":false,"labelLineHeight":8.5,"title":null}},"y":{"field":"f1","type":"quantitative","scale":{"domain":[0,1000],"nice":false},"axis":{"orient":"left","values":[0,50,100,150,200,250,300,350,400,450,500,550,600,650,700,750,800,850,900,950,1000],"labelExpr":"datum.value % 200 == 0 ? '' + datum.value : ''","tickSize":2,"labelPadding":4,"labelFlush":true,"labelOverlap":false,"title":"Frequency (Hz)","titleX":-40,"titleY":82,"titleAngle":270,"titleBaseline":"middle","titleAlign":"center","titleFontSize":9}},"text":{"field":"name"}}},
{"data":{"name":"panels"},"transform":[{"filter":"datum.panel == 15"}],"mark":{"type":"rect","opacity":0},"encoding":{"y":{"field":"f0","type":"quantitative","axis":{"orient":"right","values":[0,50,100,150,200,250,300,350,400,450,500,550,600,650,700,750,800,850,900,950,1000],"labels":false,"title":null,"tickSize":{"condition":{"test":"datum.value % 200 == 0","value":3},"value":2}}},"y2":{"field":"f1"}}}
]},
{"width":609,"height":164.5,"resolve":{"axis":{"x":"independent","y":"independent"}},"layer":[
{"data":{"name":"grays"},"transform":[{"filter":"datum.panel == 16"}],"mark":{"type":"rect","color":"#555555"},"encoding":{"x":{"field":"t0","type":"quantitative","axis":null},"x2":{"field":"t1"}}},
{"data":{"name":"panels"},"transform":[{"filter":"datum.panel == 16"}],"mark":{"type":"text","align":"left","baseline":"middle","dx":-48,"dy":16,"color":"#b8b8b8","fontSize":9.5},"encoding":{"x":{"field":"t0","type":"quantitative","scale":{"domain":[0,60],"nice":false,"zero":false},"axis":{"orient":"bottom","offset":17,"values":[0,1,2,3,4,5,6,7,8,9,10,11,12,13,14,15,16,17,18,19,20,21,22,23,24,25,26,27,28,29,30,31,32,33,34,35,36,37,38,39,40,41,42,43,44,45,46,47,48,49,50,51,52,53,54,55,56,57,58,59,60],"labelExpr":"datum.value == 0 ? ['22:10:00','15','Oct','2025'] : datum.value == 60 ? '11:00' : datum.value % 5 == 0 ? '' + datum.value : ''","tickSize":{"condition":{"test":"datum.value % 5 == 0","value":2.8},"value":2},"labelPadding":4,"labelFlush":false,"labelOverlap":false,"labelBound":false,"labelLineHeight":8.5,"title":null}},"y":{"field":"f1","type":"quantitative","scale":{"domain":[0,1000],"nice":false},"axis":{"orient":"left","values":[0,50,100,150,200,250,300,350,400,450,500,550,600,650,700,750,800,850,900,950,1000],"labelExpr":"datum.value % 200 == 0 ? '' + datum.value : ''","tickSize":2,"labelPadding":4,"labelFlush":true,"labelOverlap":false,"title":"Frequency (Hz)","titleX":-40,"titleY":82,"titleAngle":270,"titleBaseline":"middle","titleAlign":"center","titleFontSize":9}},"text":{"field":"name"}}},
{"data":{"name":"panels"},"transform":[{"filter":"datum.panel == 16"}],"mark":{"type":"rect","opacity":0},"encoding":{"y":{"field":"f0","type":"quantitative","axis":{"orient":"right","values":[0,50,100,150,200,250,300,350,400,450,500,550,600,650,700,750,800,850,900,950,1000],"labels":false,"title":null,"tickSize":{"condition":{"test":"datum.value % 200 == 0","value":3},"value":2}}},"y2":{"field":"f1"}}}
]},
{"width":609,"height":164.5,"resolve":{"axis":{"x":"independent","y":"independent"}},"layer":[
{"data":{"name":"grays"},"transform":[{"filter":"datum.panel == 17"}],"mark":{"type":"rect","color":"#555555"},"encoding":{"x":{"field":"t0","type":"quantitative","axis":null},"x2":{"field":"t1"}}},
{"data":{"name":"panels"},"transform":[{"filter":"datum.panel == 17"}],"mark":{"type":"text","align":"left","baseline":"middle","dx":-48,"dy":16,"color":"#b8b8b8","fontSize":9.5},"encoding":{"x":{"field":"t0","type":"quantitative","scale":{"domain":[0,60],"nice":false,"zero":false},"axis":{"orient":"bottom","offset":17,"values":[0,1,2,3,4,5,6,7,8,9,10,11,12,13,14,15,16,17,18,19,20,21,22,23,24,25,26,27,28,29,30,31,32,33,34,35,36,37,38,39,40,41,42,43,44,45,46,47,48,49,50,51,52,53,54,55,56,57,58,59,60],"labelExpr":"datum.value == 0 ? ['22:11:00','15','Oct','2025'] : datum.value == 60 ? '12:00' : datum.value % 5 == 0 ? '' + datum.value : ''","tickSize":{"condition":{"test":"datum.value % 5 == 0","value":2.8},"value":2},"labelPadding":4,"labelFlush":false,"labelOverlap":false,"labelBound":false,"labelLineHeight":8.5,"title":null}},"y":{"field":"f1","type":"quantitative","scale":{"domain":[0,1000],"nice":false},"axis":{"orient":"left","values":[0,50,100,150,200,250,300,350,400,450,500,550,600,650,700,750,800,850,900,950,1000],"labelExpr":"datum.value % 200 == 0 ? '' + datum.value : ''","tickSize":2,"labelPadding":4,"labelFlush":true,"labelOverlap":false,"title":"Frequency (Hz)","titleX":-40,"titleY":82,"titleAngle":270,"titleBaseline":"middle","titleAlign":"center","titleFontSize":9}},"text":{"field":"name"}}},
{"data":{"name":"panels"},"transform":[{"filter":"datum.panel == 17"}],"mark":{"type":"rect","opacity":0},"encoding":{"y":{"field":"f0","type":"quantitative","axis":{"orient":"right","values":[0,50,100,150,200,250,300,350,400,450,500,550,600,650,700,750,800,850,900,950,1000],"labels":false,"title":null,"tickSize":{"condition":{"test":"datum.value % 200 == 0","value":3},"value":2}}},"y2":{"field":"f1"}}}
]}
]
}
